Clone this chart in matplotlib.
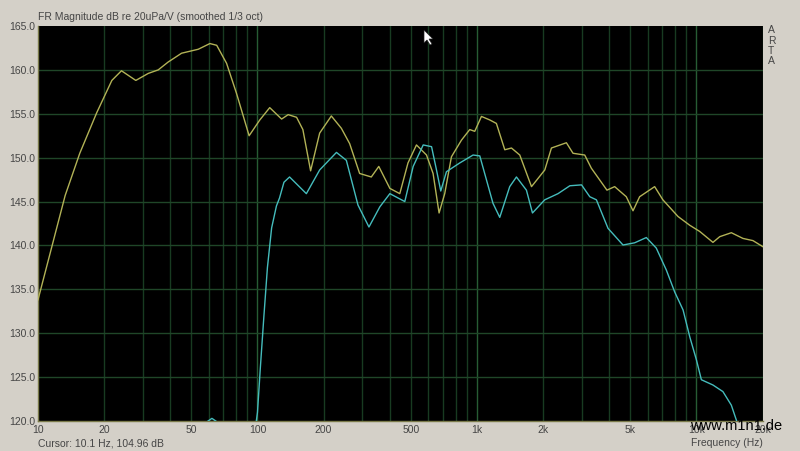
import matplotlib
matplotlib.use("Agg")
import matplotlib.pyplot as plt
from matplotlib.ticker import FixedLocator, NullFormatter
from matplotlib.patches import Polygon

plt.rcParams['font.family'] = ['Liberation Sans', 'DejaVu Sans']

# yellow trace (frequency in Hz, level in dB)
yel_f = [10, 11.3, 13.3, 15.5, 18.5, 21.7, 24.0, 27.9, 31.8, 35.3, 39.2, 45.1,
         53.7, 60.7, 65.2, 72.3, 80.3, 91.6, 102.5, 113.7, 128.8, 138, 150.7,
         161, 174.6, 192, 217, 241, 263, 292, 330, 357, 401, 445, 485, 530,
         589, 631, 672, 713, 765, 850, 927, 977, 1048, 1143, 1226, 1339, 1436,
         1567, 1772, 2037, 2184, 2555, 2739, 3097, 3320, 3910, 4240, 4790,
         5140, 5510, 6450, 7030, 8240, 9320, 10340, 11890, 12770, 14420,
         16290, 18090, 20100]
yel_db = [133.8, 138.9, 145.7, 150.5, 155.1, 158.8, 159.9, 158.8, 159.6, 160.0,
          160.9, 161.9, 162.35, 163.0, 162.8, 160.75, 157.3, 152.5, 154.3,
          155.7, 154.4, 154.9, 154.6, 153.2, 148.5, 152.8, 154.75, 153.35,
          151.6, 148.2, 147.8, 149.0, 146.5, 145.9, 149.4, 151.45, 150.3,
          148.2, 143.7, 145.9, 150.1, 152.0, 153.2, 153.0, 154.7, 154.3,
          153.9, 150.9, 151.1, 150.3, 146.7, 148.6, 151.1, 151.7, 150.5,
          150.3, 148.8, 146.3, 146.7, 145.55, 143.95, 145.55, 146.7, 145.2,
          143.3, 142.3, 141.6, 140.35, 141.0, 141.45, 140.8, 140.55, 139.85]

# cyan trace
cya_f = [10, 20, 40, 55, 62, 70, 85, 95, 97, 100, 103, 107, 111, 116, 122,
         126, 132, 140, 167, 192, 229, 254, 287, 322, 361, 401, 469, 512, 569,
         621, 654, 684, 726, 835, 960, 1030, 1183, 1270, 1410, 1513, 1680,
         1790, 2037, 2340, 2650, 2995, 3266, 3500, 3954, 4627, 5228, 5910,
         6560, 7290, 7960, 8690, 9320, 10000, 10530, 11890, 13200, 14420,
         15200, 16500, 20000]
cya_db = [105, 110, 116, 119.4, 120.3, 119.4, 117, 117.5, 118.5, 121, 126, 132,
          137.5, 142, 144.5, 145.4, 147.2, 147.8, 145.9, 148.6, 150.6, 149.7,
          144.6, 142.1, 144.4, 145.9, 145.0, 149.0, 151.45, 151.25, 148.6,
          146.2, 148.4, 149.4, 150.3, 150.2, 144.8, 143.2, 146.7, 147.8, 146.3,
          143.7, 145.2, 145.9, 146.8, 146.9, 145.55, 145.2, 141.95, 140.05,
          140.3, 140.9, 139.7, 137.2, 134.7, 132.65, 129.6, 126.95, 124.7,
          124.1, 123.35, 121.8, 120.1, 117.5, 112]

x_ticks = [10, 20, 50, 100, 200, 500, 1000, 2000, 5000, 10000, 20000]
x_labels = ['10', '20', '50', '100', '200', '500', '1k', '2k', '5k', '10k', '20k']
y_ticks = [120, 125, 130, 135, 140, 145, 150, 155, 160, 165]

bg = '#d4d0c8'
txt = '#454545'

fig = plt.figure(figsize=(8, 4.51), dpi=100, facecolor=bg)
ax = fig.add_axes([38 / 800, 1 - 421 / 451, 725 / 800, 395 / 451])
ax.set_facecolor('black')

ax.set_xscale('log')
ax.set_xlim(10, 20100)
ax.set_ylim(120, 165)

# grid
minor = [m * 10 ** d for d in range(1, 5) for m in range(2, 10) if m * 10 ** d < 20100]
for f in minor:
    ax.axvline(f, color='#183b21', lw=1, zorder=1)
for f in [100, 1000, 10000]:
    ax.axvline(f, color='#275c34', lw=1, zorder=1)
for v in y_ticks[1:-1]:
    ax.axhline(v, color='#1f4628', lw=1, zorder=1)

ax.plot(yel_f, yel_db, color='#b2b256', lw=1, zorder=3)
ax.plot(cya_f, cya_db, color='#45bcbc', lw=1, zorder=3)

ax.xaxis.set_major_locator(FixedLocator(x_ticks))
ax.set_xticklabels(x_labels)
ax.xaxis.set_minor_formatter(NullFormatter())
ax.set_yticks(y_ticks)
ax.set_yticklabels(['%.1f' % v for v in y_ticks])
ax.tick_params(which='both', length=0, labelsize=7.5, colors=txt, pad=3)
ax.tick_params(axis='y', pad=2)

for s in ['top', 'right']:
    ax.spines[s].set_visible(False)
for s in ['left', 'bottom']:
    ax.spines[s].set_color('#7a7a4a')
    ax.spines[s].set_linewidth(1)

fig.text(38 / 800, 1 - 17 / 451, 'FR Magnitude dB re 20uPa/V (smoothed 1/3 oct)',
         fontsize=7.5, color=txt, ha='left', va='center')
for i, ch in enumerate('ARTA'):
    fig.text(768 / 800, 1 - (30 + i * 10.5) / 451, ch, fontsize=7.5, color=txt,
             ha='left', va='center')
fig.text(38 / 800, 1 - 443 / 451, 'Cursor: 10.1 Hz, 104.96 dB',
         fontsize=7.5, color=txt, ha='left', va='center')
fig.text(763 / 800, 1 - 443 / 451, 'Frequency (Hz)',
         fontsize=7.5, color=txt, ha='right', va='center')
fig.text(736 / 800, 1 - 426 / 451, 'www.m1n1.de', fontsize=10.5,
         color='black', ha='center', va='center')

# mouse pointer left in the screenshot
px, py = 424, 30
arrow = [(0, 0), (0, 13), (3, 10), (6, 15), (8, 14), (5, 9), (9, 9)]
fig.patches.append(Polygon([((px + dx) / 800, 1 - (py + dy) / 451) for dx, dy in arrow],
                           closed=True, transform=fig.transFigure,
                           facecolor='white', edgecolor='#202020', lw=0.5))

fig.savefig('out.png', dpi=100, facecolor=bg)
